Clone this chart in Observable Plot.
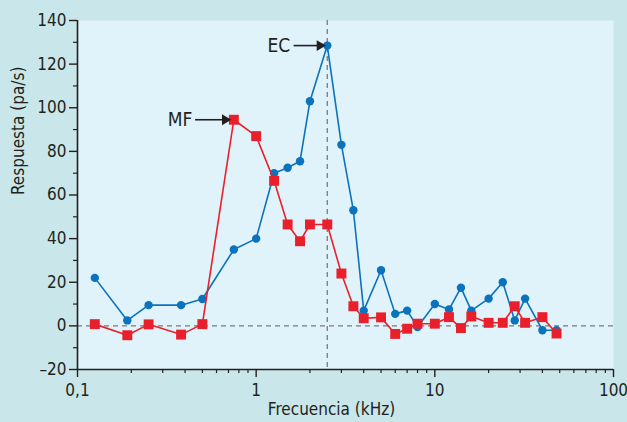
<!DOCTYPE html>
<html><head><meta charset="utf-8">
<script src="https://cdn.jsdelivr.net/npm/d3@7"></script>
<script src="https://cdn.jsdelivr.net/npm/@observablehq/plot@0.6"></script>
<style>
html,body{margin:0;padding:0;background:#c9e7ea;}
#chart{width:627px;height:422px;}
svg{font-family:"Liberation Sans Narrow","DejaVu Sans Condensed","Roboto",sans-serif;}
</style></head>
<body><div id="chart"></div>
<script>
const freqEC = [0.125,0.19,0.25,0.38,0.5,0.75,1,1.26,1.5,1.76,2,2.5,3,3.5,4,5,6,7,8,10,12,14,16,20,24,28,32,40,48];
const respEC = [22,2.5,9.5,9.5,12.3,35,40,70,72.5,75.5,103,128.5,83,53,7,25.5,5.5,7,-0.5,10,7.5,17.5,7,12.5,20,2.5,12.5,-2,-2];
const freqMF = [0.125,0.19,0.25,0.38,0.5,0.75,1,1.26,1.5,1.76,2,2.5,3,3.5,4,5,6,7,8,10,12,14,16,20,24,28,32,40,48];
const respMF = [0.8,-4.3,0.7,-4,0.8,94.5,87,66.5,46.5,38.8,46.5,46.5,24,9,3.5,3.9,-3.7,-1.3,1,1,4,-1,4.3,1.4,1.4,9,1.4,4,-3.5];
const peakFreq = 2.5;
const xMajor = [0.1,1,10,100];
const xMajorLabels = ["0,1","1","10","100"];
const xMinor = [0.2,0.3,0.4,0.5,0.6,0.7,0.8,0.9,2,3,4,5,6,7,8,9,20,30,40,50,60,70,80,90];
const yMajor = [-20,0,20,40,60,80,100,120,140];
const yMinor = [-10,10,30,50,70,90,110,130];
const annLabels = ["EC","MF"];
const annTextX = [1.55,0.44];
const annArrowX1 = [1.62,0.455];
const annArrowX2 = [2.27,0.67];
const annY = [128.5,94.5];

const ec = freqEC.map((f,i)=>({f, v:respEC[i]}));
const mf = freqMF.map((f,i)=>({f, v:respMF[i]}));
const ann = annLabels.map((t,i)=>({t, tx:annTextX[i], x1:annArrowX1[i], x2:annArrowX2[i], y:annY[i]}));
const blue = "#0b72bd", red = "#e9202b", ink = "#231f20", dash = "#7a7a7a";

const chart = Plot.plot({
  width: 627, height: 422,
  marginLeft: 77, marginRight: 14, marginTop: 20, marginBottom: 53,
  style: {background: "transparent", fontSize: "16px", color: ink},
  x: {type: "log", domain: [0.1, 100]},
  y: {domain: [-20, 140]},
  marks: [
    Plot.frame({fill: "#e0f3fa", stroke: null}),
    Plot.ruleY([0], {stroke: dash, strokeWidth: 1.3, strokeDasharray: "5,4"}),
    Plot.ruleX([peakFreq], {stroke: dash, strokeWidth: 1.3, strokeDasharray: "5,4"}),
    Plot.axisX({ticks: xMajor, tickSize: 8, tickFormat: (d)=>xMajorLabels[xMajor.indexOf(d)], tickPadding: 6, label: null, stroke: ink, strokeWidth: 1.4, fontSize: 17}),
    Plot.axisX({ticks: xMinor, tickSize: 4, text: null, label: null, stroke: ink, strokeWidth: 1.2}),
    Plot.axisY({ticks: yMajor, tickSize: 8, tickPadding: 3, label: null, stroke: ink, strokeWidth: 1.4, fontSize: 17, tickFormat: d => d < 0 ? "\u2013" + Math.abs(d) : String(d)}),
    Plot.axisY({ticks: yMinor, tickSize: 4, text: null, label: null, stroke: ink, strokeWidth: 1.2}),
    Plot.ruleX([0.1], {stroke: ink, strokeWidth: 1.6}),
    Plot.ruleY([-20], {stroke: ink, strokeWidth: 1.6}),
    Plot.text(["Frecuencia (kHz)"], {frameAnchor: "bottom", dy: 45, dx: -14, fontSize: 17, fill: ink}),
    Plot.text(["Respuesta (pa/s)"], {frameAnchor: "left", dx: -59, rotate: -90, fontSize: 17, fill: ink}),
    Plot.line(ec, {x: "f", y: "v", stroke: blue, strokeWidth: 1.6}),
    Plot.dot(ec, {x: "f", y: "v", r: 4.2, fill: blue, stroke: null}),
    Plot.line(mf, {x: "f", y: "v", stroke: red, strokeWidth: 1.6}),
    Plot.dot(mf, {x: "f", y: "v", symbol: "square", r: 5.6, fill: red, stroke: null}),
    Plot.link(ann, {x1: "x1", x2: "x2", y1: "y", y2: "y", stroke: ink, strokeWidth: 1.6}),
    Plot.dot(ann, {x: "x2", y: "y", symbol: "triangle", rotate: 90, r: 4, fill: ink, stroke: null}),
    Plot.text(ann, {x: "tx", y: "y", text: "t", textAnchor: "end", fontSize: 19, fill: ink})
  ]
});
document.getElementById("chart").appendChild(chart);
</script></body></html>
